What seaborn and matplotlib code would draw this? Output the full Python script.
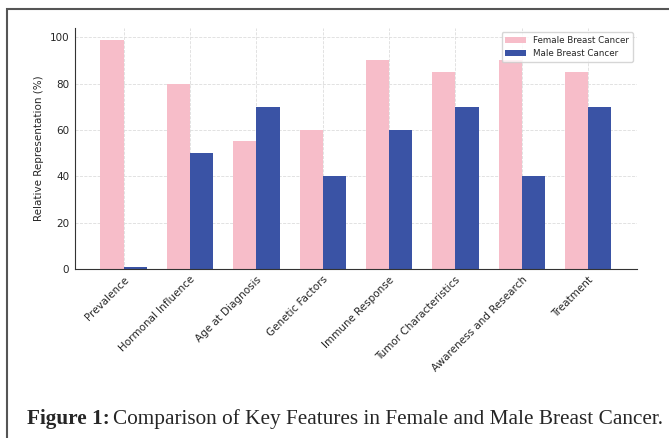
import pandas as pd
import seaborn as sns
import matplotlib.pyplot as plt
from matplotlib.patches import Rectangle

features = ['Prevalence', 'Hormonal Influence', 'Age at Diagnosis', 'Genetic Factors',
            'Immune Response', 'Tumor Characteristics', 'Awareness and Research', 'Treatment']
female = [99, 80, 55, 60, 90, 85, 90, 85]
male = [1, 50, 70, 40, 60, 70, 40, 70]
groups = ['Female Breast Cancer', 'Male Breast Cancer']

df = pd.DataFrame({
    'Features': features * 2,
    'value': female + male,
    'group': [groups[0]] * len(features) + [groups[1]] * len(features),
})

sns.set_style('whitegrid', {'grid.linestyle': '--', 'grid.color': '#dddddd'})

fig = plt.figure(figsize=(6.69, 4.38), dpi=100)
ax = fig.add_axes([0.112, 0.386, 0.840, 0.550])

sns.barplot(data=df, x='Features', y='value', hue='group', width=0.7,
            palette=['#f7bdc9', '#3a53a5'], saturation=1, linewidth=0, ax=ax)

ax.set_xlim(-0.735, 7.735)
ax.set_ylim(0, 103.95)
ax.set_yticks([0, 20, 40, 60, 80, 100])
ax.grid(True, axis='both', linewidth=0.6)
for side in ['top', 'right']:
    ax.spines[side].set_visible(False)
for side in ['left', 'bottom']:
    ax.spines[side].set_color('#333333')
    ax.spines[side].set_linewidth(0.8)

ax.set_xticks(range(len(features)))
ax.set_xticklabels(features, rotation=45, ha='right', rotation_mode='anchor', fontsize=7.5)
ax.tick_params(axis='y', labelsize=7.5, length=0, pad=4)
ax.tick_params(axis='x', length=0, pad=4)
ax.set_xlabel('Features', fontsize=7.5, labelpad=49)
ax.set_ylabel('Relative Representation (%)', fontsize=7.5)
ax.legend(loc='upper right', fontsize=6.3, frameon=True, handlelength=2.4, handleheight=0.6)

fig.patches.append(Rectangle((7 / 669, -0.1), 1.2, 1 - 9 / 438 + 0.1, transform=fig.transFigure,
                             fill=False, edgecolor='#555555', linewidth=1.5))

fig.text(27 / 669, 1 - 419 / 438, 'Figure 1:', fontsize=15.3, fontweight='bold',
         family='Liberation Serif', va='center', ha='left')
fig.text(113 / 669, 1 - 419 / 438, 'Comparison of Key Features in Female and Male Breast Cancer.',
         fontsize=15.3, family='Liberation Serif', va='center', ha='left')

fig.savefig('out.png', dpi=100)
